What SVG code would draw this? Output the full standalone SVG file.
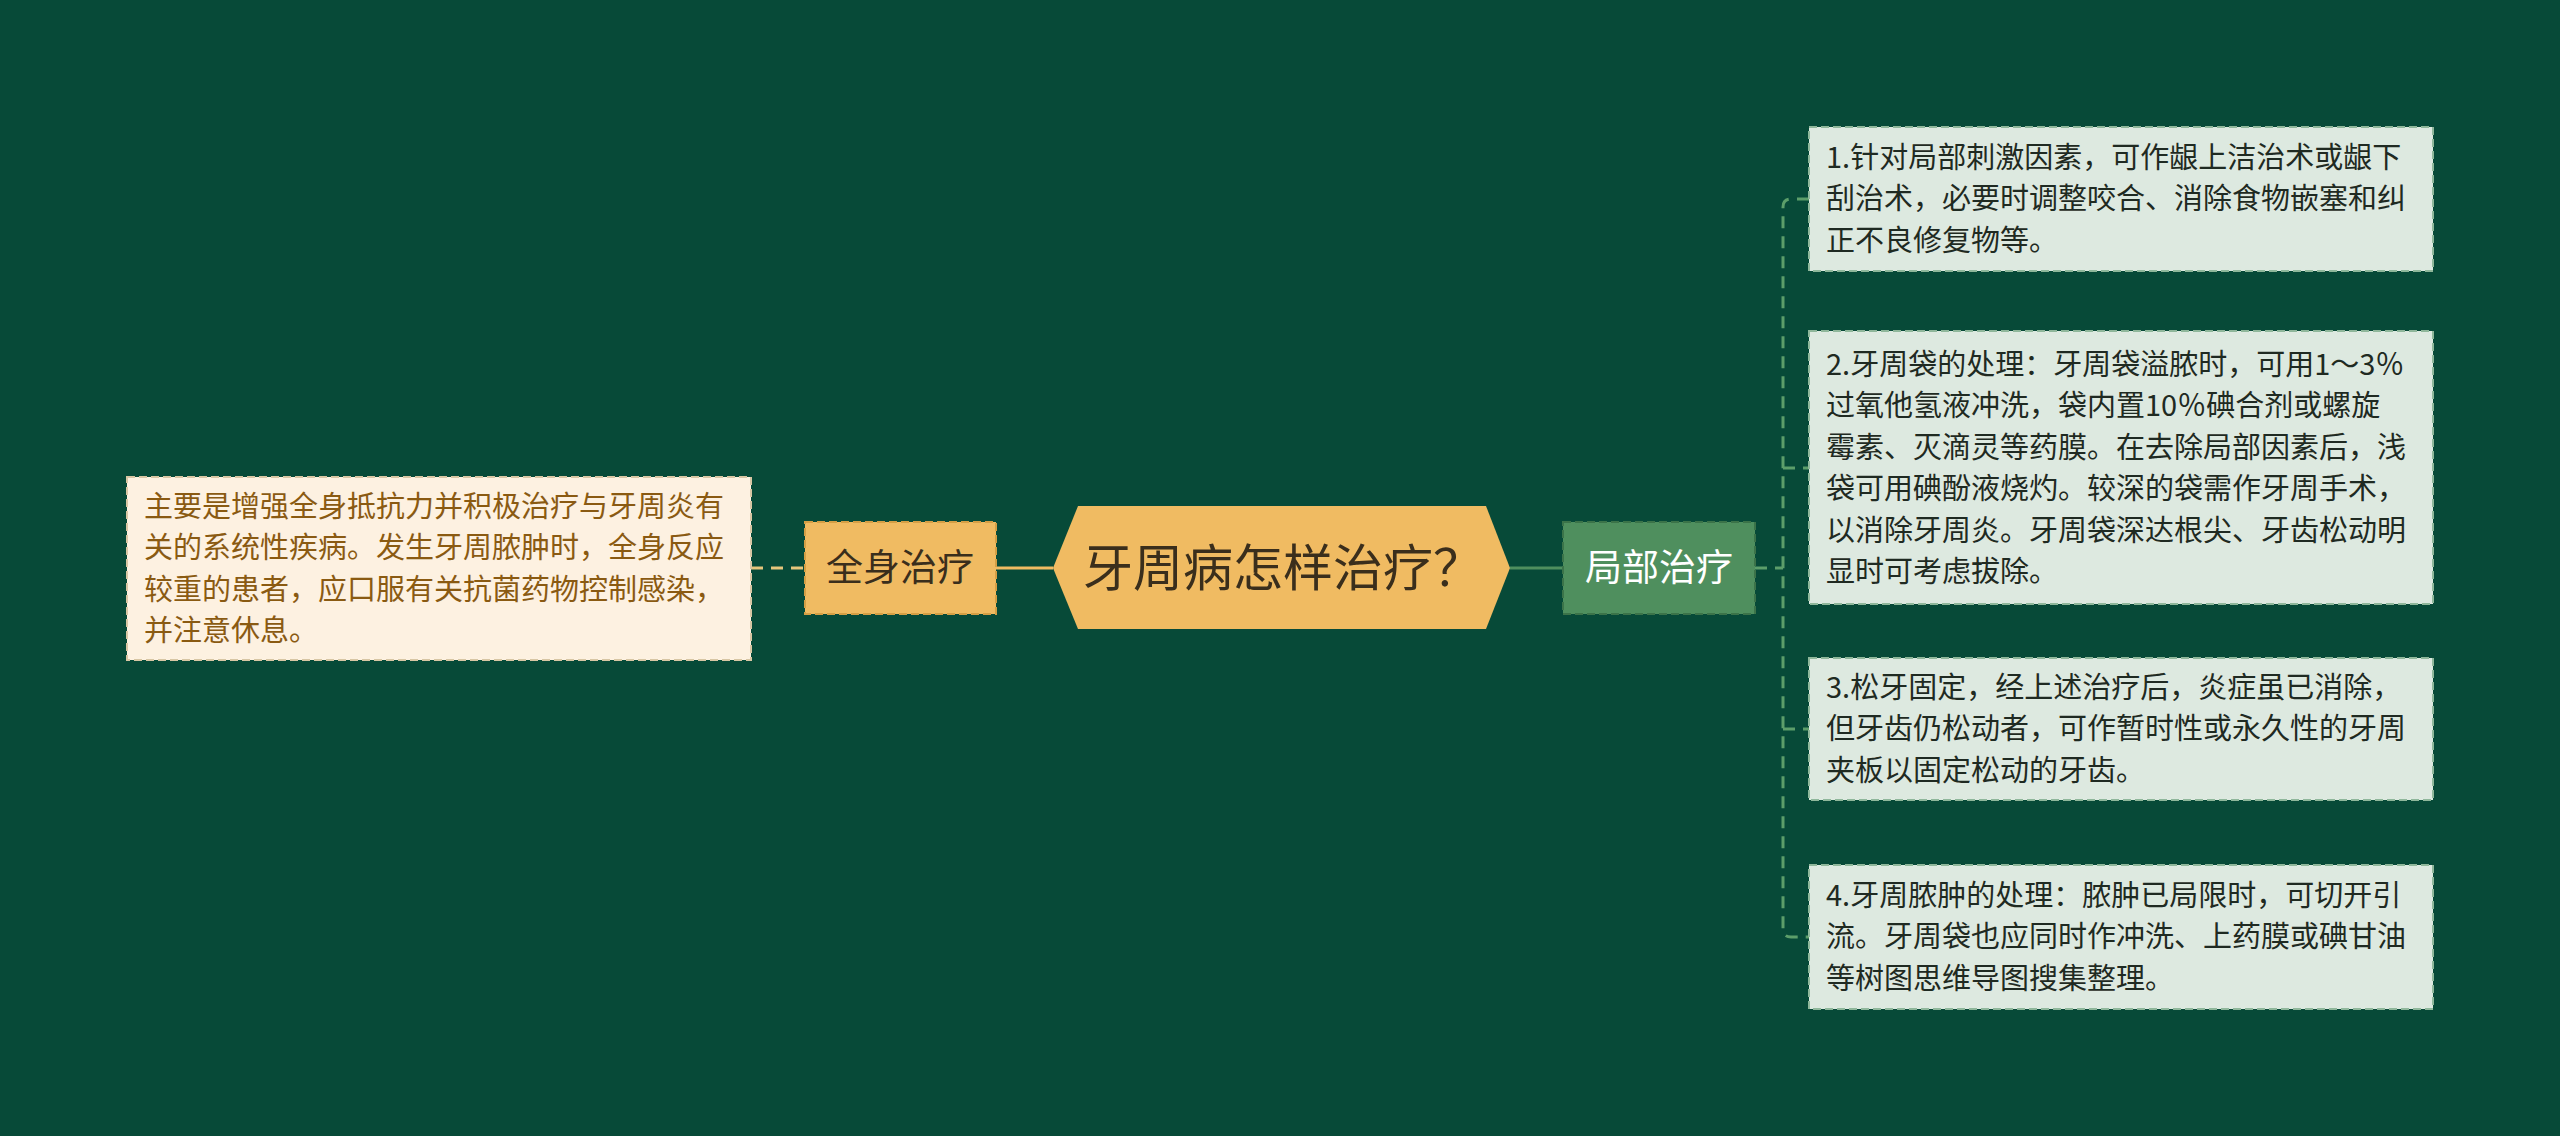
<svg xmlns="http://www.w3.org/2000/svg" width="2560" height="1136" viewBox="0 0 2560 1136">
<style>
text{font-family:"Noto Sans CJK SC","Noto Sans",sans-serif;}
.leaf{fill:#dde9e0;stroke:#8fb79b;stroke-width:2;stroke-dasharray:8 4;}
.leaft{font-size:29px;fill:#1f2a22;}
.lt{font-size:29px;fill:#8a5a12;}
</style>
<rect width="2560" height="1136" fill="#074a38"/>
<g id="connectors" fill="none" stroke-width="3">
  <line x1="751" y1="568" x2="805" y2="568" stroke="#e6c67c" stroke-dasharray="12 8"/>
  <line x1="996" y1="568" x2="1053" y2="568" stroke="#f0bb62"/>
  <line x1="1510" y1="568" x2="1563" y2="568" stroke="#4f8f5e"/>
  <g stroke="#5c9e6a" stroke-dasharray="12 8">
    <line x1="1755" y1="568" x2="1783" y2="568"/>
    <path d="M1809,199 H1791 Q1783,199 1783,207 V929 Q1783,937 1791,937 H1809"/>
    <line x1="1783" y1="468" x2="1809" y2="468"/>
    <line x1="1783" y1="729" x2="1809" y2="729"/>
  </g>
</g>
<g id="node-left-detail">
  <rect x="127" y="477" width="624" height="183" fill="#fdf1e1" stroke="#d8c6a4" stroke-width="2" stroke-dasharray="8 4"/>
  <text class="lt" x="144"><tspan x="144" y="517">主要是增强全身抵抗力并积极治疗与牙周炎有</tspan><tspan x="144" y="558">关的系统性疾病。发生牙周脓肿时，全身反应</tspan><tspan x="144" y="600">较重的患者，应口服有关抗菌药物控制感染，</tspan><tspan x="144" y="641">并注意休息。</tspan></text>
</g>
<g id="node-quanshen">
  <rect x="805" y="522" width="191" height="92" fill="#f0bb62" stroke="#d59f45" stroke-width="2" stroke-dasharray="8 4"/>
  <text x="900" y="581" font-size="37" fill="#3a2e1c" text-anchor="middle">全身治疗</text>
</g>
<g id="node-root">
  <polygon points="1053,568 1078,506 1486,506 1510,568 1486,629 1078,629" fill="#f0bb62"/>
  <text x="1283" y="586" font-size="50" fill="#3a2e1c" text-anchor="middle">牙周病怎样治疗？</text>
</g>
<g id="node-jubu">
  <rect x="1563" y="522" width="192" height="92" fill="#4f8f5e" stroke="#3b7349" stroke-width="2" stroke-dasharray="8 4"/>
  <text x="1659" y="581" font-size="37" fill="#ffffff" text-anchor="middle">局部治疗</text>
</g>
<g id="node-leaf1">
  <rect class="leaf" x="1809" y="127" width="624" height="144"/>
  <text class="leaft"><tspan x="1826" y="168">1.针对局部刺激因素，可作龈上洁治术或龈下</tspan><tspan x="1826" y="209">刮治术，必要时调整咬合、消除食物嵌塞和纠</tspan><tspan x="1826" y="251">正不良修复物等。</tspan></text>
</g>
<g id="node-leaf2">
  <rect class="leaf" x="1809" y="331" width="624" height="273"/>
  <text class="leaft"><tspan x="1826" y="375">2.牙周袋的处理：牙周袋溢脓时，可用1～3％</tspan><tspan x="1826" y="416">过氧他氢液冲洗，袋内置10％碘合剂或螺旋</tspan><tspan x="1826" y="458">霉素、灭滴灵等药膜。在去除局部因素后，浅</tspan><tspan x="1826" y="499">袋可用碘酚液烧灼。较深的袋需作牙周手术，</tspan><tspan x="1826" y="541">以消除牙周炎。牙周袋深达根尖、牙齿松动明</tspan><tspan x="1826" y="582">显时可考虑拔除。</tspan></text>
</g>
<g id="node-leaf3">
  <rect class="leaf" x="1809" y="658" width="624" height="142"/>
  <text class="leaft"><tspan x="1826" y="698">3.松牙固定，经上述治疗后，炎症虽已消除，</tspan><tspan x="1826" y="739">但牙齿仍松动者，可作暂时性或永久性的牙周</tspan><tspan x="1826" y="781">夹板以固定松动的牙齿。</tspan></text>
</g>
<g id="node-leaf4">
  <rect class="leaf" x="1809" y="865" width="624" height="144"/>
  <text class="leaft"><tspan x="1826" y="906">4.牙周脓肿的处理：脓肿已局限时，可切开引</tspan><tspan x="1826" y="947">流。牙周袋也应同时作冲洗、上药膜或碘甘油</tspan><tspan x="1826" y="989">等树图思维导图搜集整理。</tspan></text>
</g>
</svg>
